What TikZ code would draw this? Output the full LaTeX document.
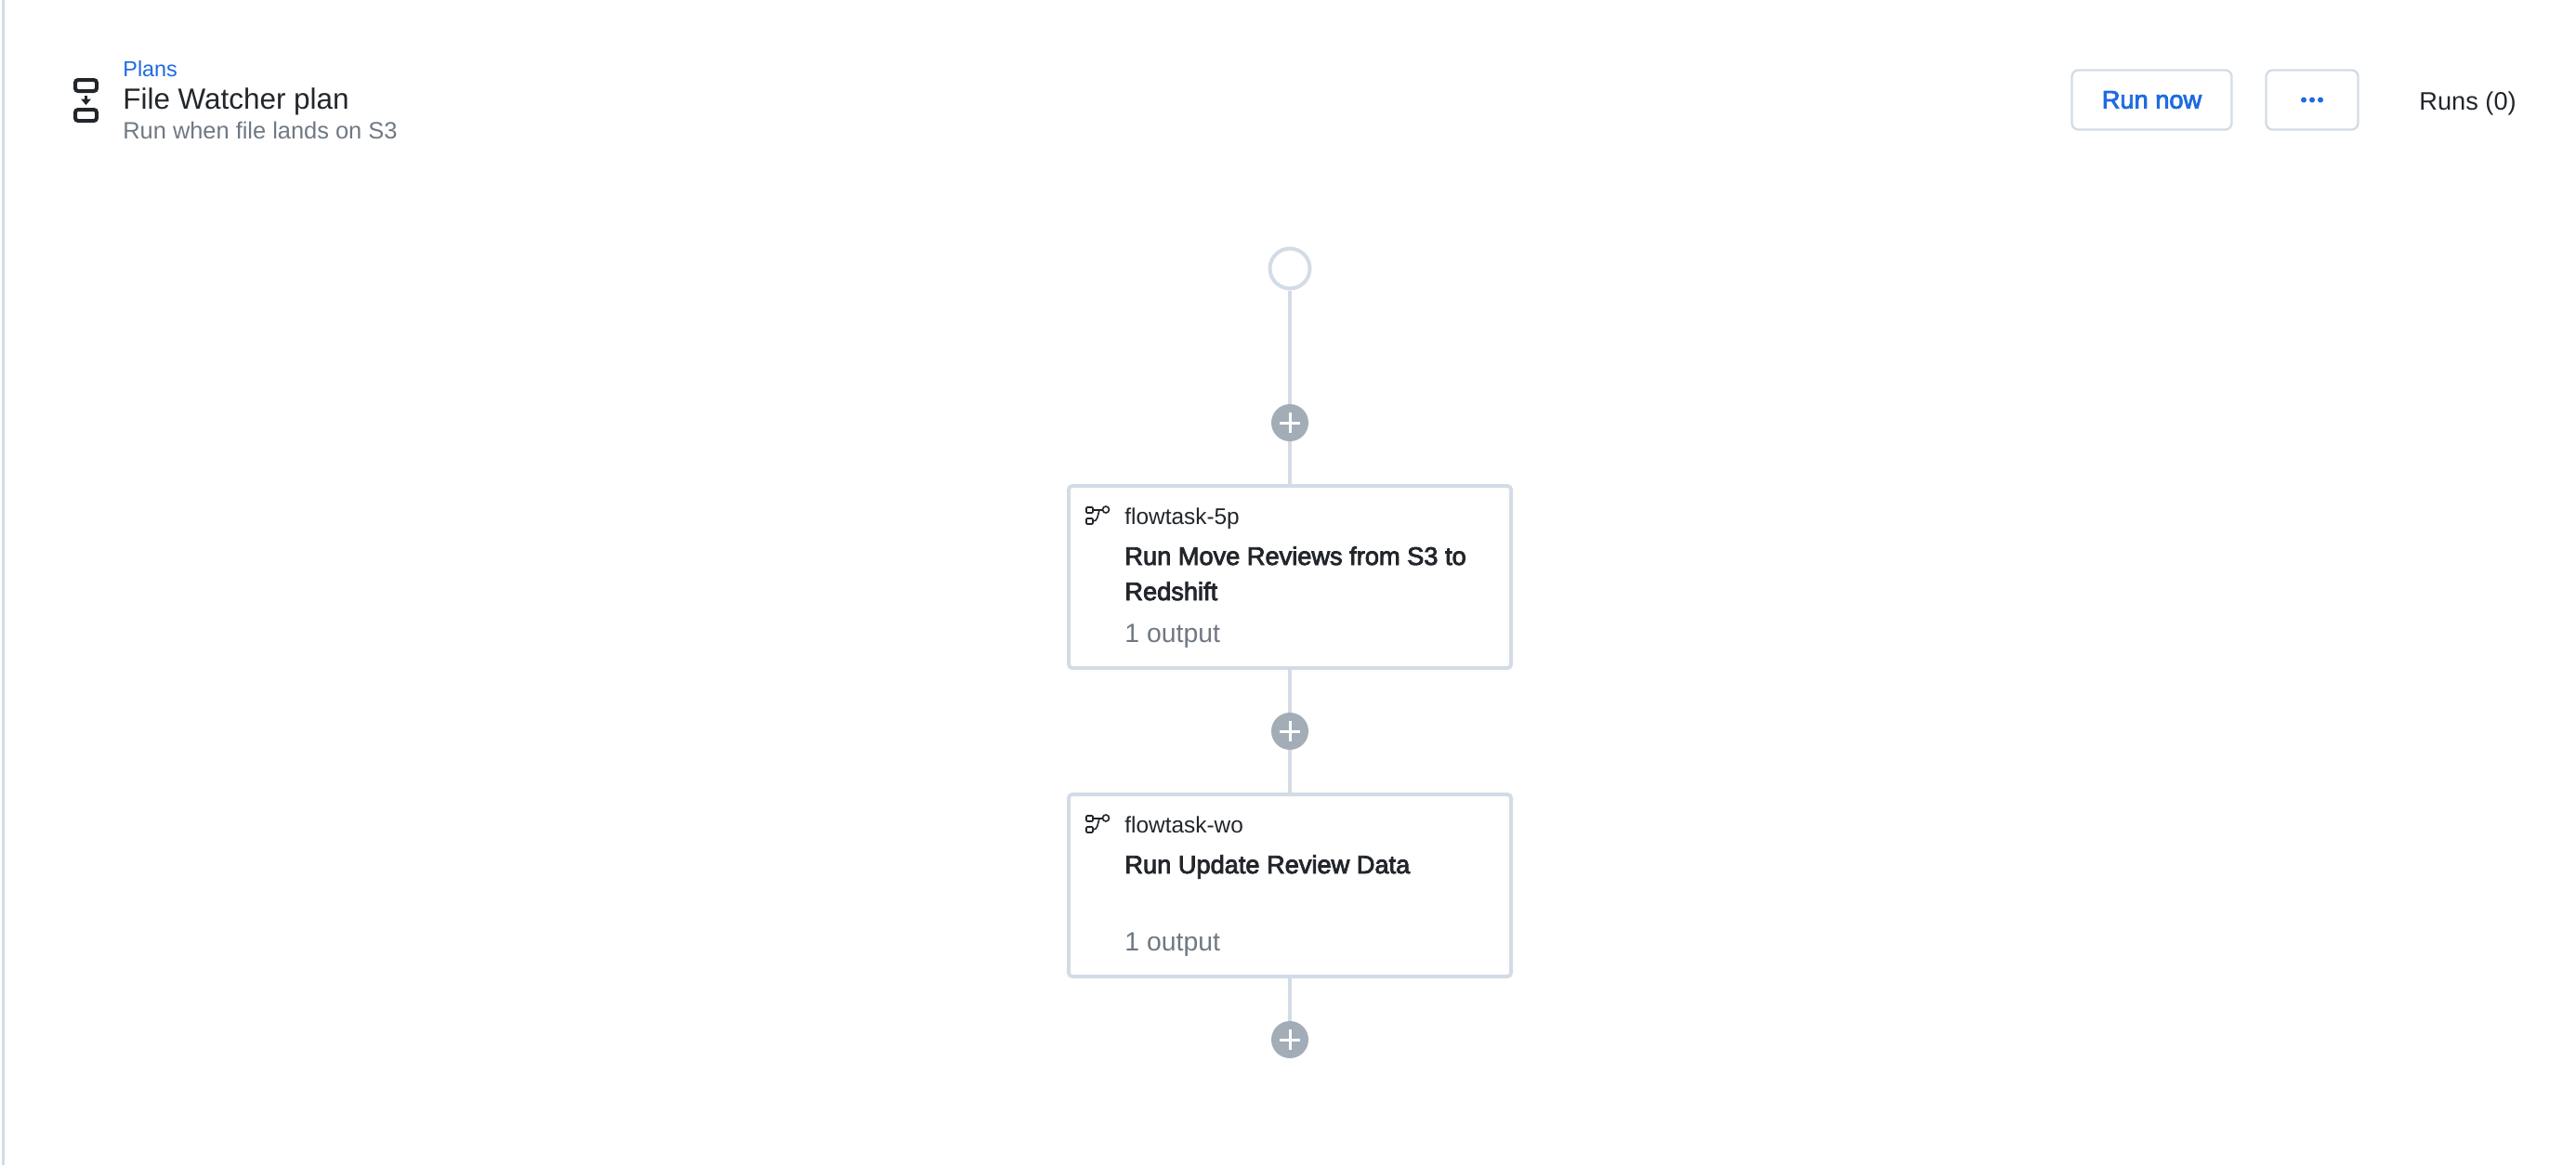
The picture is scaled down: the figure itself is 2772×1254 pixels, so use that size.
\documentclass[tikz,border=0pt]{standalone}
\usepackage{fontspec}
\setmainfont{Liberation Sans}
\newfontfamily\medfont[FakeBold=3]{Liberation Sans}
\definecolor{edgegrey}{HTML}{D3DCE6}
\definecolor{plusgrey}{HTML}{A3ADB8}
\definecolor{linkblue}{HTML}{1F6BE0}
\definecolor{inkdark}{HTML}{22262B}
\definecolor{subgrey}{HTML}{6F7883}
\tikzset{
  taskbox/.style={draw=edgegrey, line width=2pt, rounded corners=2pt, fill=white, minimum width=238pt, minimum height=98pt},
  btnbox/.style={draw=edgegrey, line width=1.2pt, rounded corners=3.5pt, minimum height=32pt},
  startdot/.style={draw=edgegrey, line width=2pt, circle, fill=white, minimum size=21.5pt, inner sep=0pt},
  adddot/.style={circle, fill=plusgrey, minimum size=20pt, inner sep=0pt,
    path picture={\draw[white, line width=1.5pt] ([xshift=-5.5pt]path picture bounding box.center) -- ([xshift=5.5pt]path picture bounding box.center);
      \draw[white, line width=1.5pt] ([yshift=-5.5pt]path picture bounding box.center) -- ([yshift=5.5pt]path picture bounding box.center);}},
  link/.style={draw=edgegrey, line width=2pt},
  txt/.style={anchor=base west, inner sep=0pt, text=inkdark},
}
\begin{document}
\begin{tikzpicture}[x=0.5pt, y=-0.5pt]
\useasboundingbox (0,0) rectangle (2772,1254);
\fill[edgegrey] (1.5,0) rectangle (4.5,1254);
% header
\draw[inkdark, line width=2pt, rounded corners=1.5pt] (81,86) rectangle (104,98);
\draw[inkdark, line width=2pt, rounded corners=1.5pt] (81,118) rectangle (104,130);
\draw[inkdark, line width=1.2pt] (92.5,103) -- (92.5,108);
\fill[inkdark] (87,106.5) -- (98,106.5) -- (92.5,113) -- cycle;
\node[txt, text=linkblue, font=\fontsize{11.7}{14}\selectfont] (crumb) at (132,82) {Plans};
\node[txt, font=\fontsize{15.7}{18}\selectfont] (plantitle) at (132,117) {File Watcher plan};
\node[txt, text=subgrey, font=\fontsize{12.7}{15}\selectfont] (plansub) at (132,149) {Run when file lands on S3};
\node[btnbox, minimum width=86pt, text=linkblue, font=\medfont\fontsize{13.6}{17}\selectfont] (runbtn) at (2315.5,107.5) {Run now};
\node[btnbox, minimum width=49.5pt] (morebtn) at (2488,107.5) {};
\foreach \dx in {-9,0,9}
  \fill[linkblue] ([xshift=\dx*0.5pt]morebtn.center) circle (1.5pt);
\node[txt, font=\fontsize{13.6}{17}\selectfont] (runs) at (2603,118) {Runs (0)};
% flow
\node[startdot] (start) at (1388,289) {};
\node[adddot] (addA) at (1388,455) {};
\node[taskbox] (taskA) at (1388,621) {};
\node[adddot] (addB) at (1388,787) {};
\node[taskbox] (taskB) at (1388,953) {};
\node[adddot] (addC) at (1388,1119) {};
\draw[link] (start) -- (addA);
\draw[link] (addA) -- (taskA);
\draw[link] (taskA) -- (addB);
\draw[link] (addB) -- (taskB);
\draw[link] (taskB) -- (addC);
% task icons
\foreach \oy in {0,332} {
  \begin{scope}[yshift=-\oy*0.5pt, inkdark, line width=0.8pt]
    \draw[rounded corners=0.5pt] (1169,546) rectangle (1176,552);
    \draw[rounded corners=0.5pt] (1169,558) rectangle (1176,564);
    \draw (1190,548.5) circle (3.5);
    \draw (1176,549) -- (1186.5,549);
    \draw (1176,561) .. controls (1181,561) and (1181,556) .. (1183,549);
  \end{scope}
}
\node[txt, font=\fontsize{12.2}{15}\selectfont] (idA) at (1210,564) {flowtask-5p};
\node[txt, font=\medfont\fontsize{13.6}{16}\selectfont] (nameA) at (1210,608) {Run Move Reviews from S3 to};
\node[txt, font=\medfont\fontsize{13.6}{16}\selectfont] (nameAb) at (1210,646) {Redshift};
\node[txt, text=subgrey, font=\fontsize{14.2}{16}\selectfont] (outA) at (1210,691) {1 output};
\node[txt, font=\fontsize{12.2}{15}\selectfont] (idB) at (1210,896) {flowtask-wo};
\node[txt, font=\medfont\fontsize{13.6}{16}\selectfont] (nameB) at (1210,940) {Run Update Review Data};
\node[txt, text=subgrey, font=\fontsize{14.2}{16}\selectfont] (outB) at (1210,1023) {1 output};
\end{tikzpicture}
\end{document}
